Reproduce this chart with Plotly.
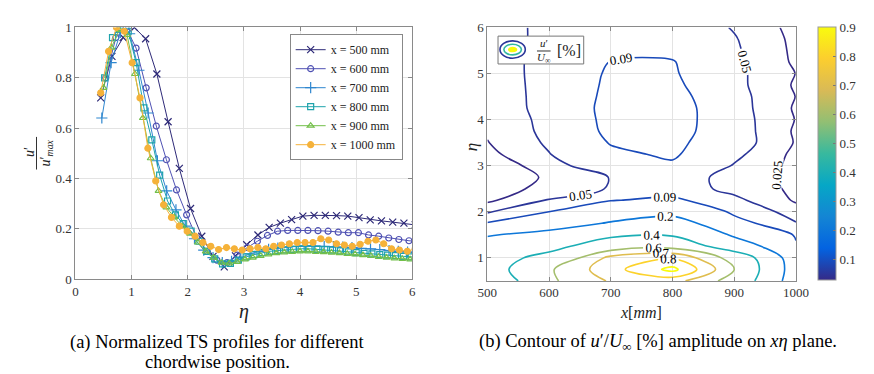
import plotly.graph_objects as go

W, H = 874, 374

# ---------------- left panel data: normalized TS profiles ----------------
eta_500 = [0.45,0.65,0.85,1.05,1.25,1.45,1.65,1.85,2.05,2.25,2.45,2.65,2.85,3.05,3.25,3.45,3.65,3.85,4.05,4.25,4.45,4.65,4.85,5.05,5.25,5.45,5.65,5.85,6.05]
u_500 = [0.72,0.885,0.96,1.0,0.955,0.815,0.625,0.44,0.28,0.17,0.09,0.048,0.092,0.136,0.175,0.205,0.222,0.236,0.25,0.253,0.253,0.252,0.25,0.244,0.235,0.231,0.226,0.222,0.215]

eta_600 = [0.54,0.72,0.90,1.08,1.26,1.44,1.62,1.80,1.98,2.16,2.34,2.52,2.70,2.88,3.06,3.24,3.42,3.60,3.78,3.96,4.14,4.32,4.50,4.68,4.86,5.04,5.22,5.40,5.58,5.76,5.94,6.12]
u_600 = [0.80,0.96,1.0,0.918,0.76,0.608,0.474,0.354,0.255,0.165,0.11,0.075,0.065,0.095,0.125,0.15,0.173,0.19,0.193,0.193,0.193,0.192,0.19,0.186,0.184,0.184,0.175,0.17,0.163,0.157,0.152,0.148]

eta_700 = [0.47,0.635,0.80,0.965,1.13,1.295,1.46,1.625,1.79,1.955,2.12,2.285,2.45,2.615,2.78,2.945,3.11,3.275,3.44,3.605,3.77,3.935,4.10,4.265,4.43,4.595,4.76,4.925,5.09,5.255,5.42,5.585,5.75,5.915,6.08]
u_700 = [0.64,0.86,0.98,0.975,0.83,0.66,0.47,0.35,0.275,0.21,0.16,0.115,0.085,0.065,0.07,0.085,0.1,0.11,0.118,0.123,0.127,0.13,0.131,0.131,0.13,0.129,0.127,0.125,0.122,0.12,0.117,0.113,0.11,0.107,0.105]

eta_800 = [0.52,0.66,0.80,0.94,1.08,1.22,1.36,1.50,1.64,1.78,1.92,2.06,2.20,2.34,2.48,2.62,2.76,2.90,3.04,3.18,3.32,3.46,3.60,3.74,3.88,4.02,4.16,4.30,4.44,4.58,4.72,4.86,5.00,5.14,5.28,5.42,5.56,5.70,5.84,5.98,6.12]
u_800 = [0.80,0.96,1.0,0.985,0.86,0.68,0.553,0.413,0.31,0.255,0.22,0.19,0.15,0.11,0.08,0.06,0.062,0.075,0.088,0.097,0.105,0.11,0.113,0.116,0.118,0.12,0.12,0.118,0.117,0.115,0.112,0.108,0.105,0.102,0.1,0.097,0.095,0.093,0.09,0.088,0.087]

eta_900 = [0.50,0.64,0.78,0.92,1.06,1.20,1.34,1.48,1.62,1.76,1.90,2.04,2.18,2.32,2.46,2.60,2.74,2.88,3.02,3.16,3.30,3.44,3.58,3.72,3.86,4.00,4.14,4.28,4.42,4.56,4.70,4.84,4.98,5.12,5.26,5.40,5.54,5.68,5.82,5.96,6.10]
u_900 = [0.76,0.92,0.99,0.97,0.815,0.64,0.48,0.35,0.285,0.245,0.21,0.18,0.145,0.11,0.085,0.065,0.062,0.068,0.078,0.085,0.092,0.098,0.103,0.106,0.108,0.11,0.11,0.108,0.107,0.105,0.103,0.1,0.098,0.095,0.092,0.088,0.085,0.082,0.08,0.078,0.077]

eta_1000 = [0.45,0.59,0.73,0.87,1.01,1.15,1.29,1.43,1.57,1.71,1.85,1.99,2.13,2.27,2.41,2.55,2.69,2.83,2.97,3.11,3.25,3.39,3.53,3.67,3.81,3.95,4.09,4.23,4.37,4.51,4.65,4.79,4.93,5.07,5.21,5.35,5.49,5.63,5.77,5.91,6.05]
u_1000 = [0.74,0.905,1.0,0.985,0.86,0.72,0.52,0.39,0.295,0.245,0.21,0.19,0.17,0.145,0.13,0.117,0.125,0.12,0.115,0.12,0.125,0.12,0.13,0.135,0.14,0.145,0.145,0.145,0.16,0.155,0.14,0.135,0.13,0.138,0.15,0.155,0.14,0.12,0.115,0.11,0.12]

series_names = ["x = 500 mm", "x = 600 mm", "x = 700 mm", "x = 800 mm", "x = 900 mm", "x = 1000 mm"]
x_ticks_left = [0, 1, 2, 3, 4, 5, 6]
y_ticks_left = [0, 0.2, 0.4, 0.6, 0.8, 1]

# ---------------- right panel data: u'/U_inf [%] on x-eta plane ----------------
x_mm = [500, 600, 700, 800, 900, 1000]
eta_grid = [0.5,0.75,1.0,1.25,1.5,1.75,2.0,2.25,2.5,2.75,3.0,3.25,3.5,3.75,4.0,4.25,4.5,4.75,5.0,5.25,5.5,5.75,6.0]
amp_500 = [0.22,0.30,0.30,0.26,0.19,0.093,0.045,0.020,0.012,0.010,0.012,0.018,0.024,0.028,0.030,0.032,0.033,0.034,0.035,0.035,0.035,0.035,0.035]
amp_600 = [0.58,0.585,0.47,0.33,0.24,0.14,0.09,0.052,0.033,0.028,0.035,0.049,0.054,0.057,0.058,0.060,0.060,0.060,0.060,0.060,0.059,0.058,0.058]
amp_700 = [0.71,0.76,0.73,0.53,0.36,0.21,0.13,0.088,0.052,0.051,0.078,0.083,0.092,0.098,0.100,0.101,0.099,0.097,0.095,0.091,0.080,0.074,0.068]
amp_800 = [0.74,0.93,0.79,0.56,0.38,0.26,0.16,0.10,0.065,0.068,0.085,0.095,0.099,0.105,0.108,0.108,0.104,0.098,0.094,0.092,0.082,0.076,0.070]
amp_900 = [0.55,0.60,0.55,0.28,0.18,0.11,0.08,0.057,0.042,0.038,0.048,0.057,0.065,0.065,0.063,0.062,0.060,0.058,0.057,0.056,0.054,0.052,0.048]
amp_1000 = [0.10,0.11,0.10,0.095,0.085,0.052,0.035,0.022,0.020,0.018,0.018,0.019,0.023,0.0215,0.024,0.022,0.0245,0.022,0.0245,0.021,0.020,0.019,0.017]
levels = [0.025, 0.05, 0.09, 0.2, 0.4, 0.6, 0.7, 0.8, 0.9]
cbar_ticks = [0.1, 0.2, 0.3, 0.4, 0.5, 0.6, 0.7, 0.8, 0.9]
cbar_min, cbar_max = 0.028, 0.9
x_ticks_right = [500, 600, 700, 800, 900, 1000]
y_ticks_right = [1, 2, 3, 4, 5, 6]

# ---------------- styling ----------------
SERIF = "Liberation Serif, DejaVu Serif, Times New Roman, serif"
line_colors = ["#2e2a78", "#4f51b3", "#2f87cf", "#1ea3ac", "#73bf4a", "#f5b23a"]
symbols = ["x-thin-open", "circle-open", "cross-thin-open", "square-open", "triangle-up-open", "circle"]
sizes = [7, 6, 8, 6, 6, 6]
parula = [[0.0, "#352A87"], [0.125, "#0363E1"], [0.25, "#1485D4"], [0.375, "#06A7C6"],
          [0.5, "#38B99E"], [0.625, "#92BF73"], [0.75, "#D9BA56"], [0.875, "#FCCE2E"], [1.0, "#F9FB0E"]]


def px(x):
    return x / W


def py(y):
    return 1 - y / H


def scale_color(v):
    t = (v - cbar_min) / (cbar_max - cbar_min)
    t = min(max(t, 0.0), 1.0)
    for (t0, c0), (t1, c1) in zip(parula[:-1], parula[1:]):
        if t0 <= t <= t1:
            f = (t - t0) / (t1 - t0) if t1 > t0 else 0
            a = [int(c0[i:i + 2], 16) for i in (1, 3, 5)]
            b = [int(c1[i:i + 2], 16) for i in (1, 3, 5)]
            r = [round(a[k] + f * (b[k] - a[k])) for k in range(3)]
            return "rgb(%d,%d,%d)" % tuple(r)
    return parula[-1][1]


fig = go.Figure()

etas = [eta_500, eta_600, eta_700, eta_800, eta_900, eta_1000]
us = [u_500, u_600, u_700, u_800, u_900, u_1000]
for i in range(6):
    fig.add_trace(go.Scatter(
        x=etas[i], y=us[i], name=series_names[i], mode="lines+markers",
        line=dict(color=line_colors[i], width=1),
        marker=dict(symbol=symbols[i], size=sizes[i], color=line_colors[i],
                    line=dict(width=1.2, color=line_colors[i])),
        xaxis="x", yaxis="y", hoverinfo="skip"))

# contour field (rows along eta, columns along x)
cols = [amp_500, amp_600, amp_700, amp_800, amp_900, amp_1000]
Z = [[cols[i][j] for i in range(len(x_mm))] for j in range(len(eta_grid))]

for L in levels:
    c = scale_color(L)
    fig.add_trace(go.Contour(
        x=x_mm, y=eta_grid, z=Z, autocontour=False,
        contours=dict(start=L, end=L, size=1, coloring="lines", showlabels=True,
                      labelfont=dict(family=SERIF, size=13, color="black"),
                      labelformat="~g"),
        colorscale=[[0, c], [1, c]], showscale=False, line=dict(width=1.6),
        xaxis="x2", yaxis="y2", hoverinfo="skip", showlegend=False))

# colorbar carrier
fig.add_trace(go.Scatter(
    x=[None], y=[None], mode="markers", xaxis="x2", yaxis="y2", showlegend=False,
    marker=dict(color=[0.5], colorscale=parula, cmin=cbar_min, cmax=cbar_max, showscale=True,
                colorbar=dict(x=px(822), xanchor="left", y=py(13), yanchor="top",
                              len=(277 - 13) / H, lenmode="fraction", thickness=18,
                              xpad=0, ypad=0, outlinecolor="#999", outlinewidth=1,
                              tickvals=cbar_ticks, ticks="inside", ticklen=3,
                              tickcolor="#777",
                              tickfont=dict(family=SERIF, size=13, color="#333")))))

axis_common = dict(showgrid=True, gridcolor="#e3e3e3", gridwidth=1, showline=True,
                   linecolor="#8a8a8a", linewidth=1, mirror="ticks", ticks="inside",
                   ticklen=4, tickcolor="#888", zeroline=False,
                   tickfont=dict(family=SERIF, size=13, color="#333"))

fig.update_layout(
    width=W, height=H, margin=dict(l=0, r=0, t=0, b=0),
    paper_bgcolor="white", plot_bgcolor="white",
    xaxis=dict(domain=[px(59), px(405)], range=[0, 6], tickvals=x_ticks_left, anchor="y", **axis_common),
    yaxis=dict(domain=[py(275), py(13)], range=[0, 1], tickvals=y_ticks_left,
               ticktext=["0", "0.2", "0.4", "0.6", "0.8", "1"], anchor="x", **axis_common),
    xaxis2=dict(domain=[px(482), px(799)], range=[500, 1000], tickvals=x_ticks_right, anchor="y2", **axis_common),
    yaxis2=dict(domain=[py(277), py(13)], range=[0.5, 6], tickvals=y_ticks_right, anchor="x2", **axis_common),
    legend=dict(x=px(279), y=py(20), xanchor="left", yanchor="top", bgcolor="white",
                bordercolor="#888", borderwidth=1, tracegroupgap=0,
                font=dict(family=SERIF, size=12, color="#222")),
    showlegend=True,
)

ann = []


def add_text(text, x, y, size, angle=0, color="#222", xanchor="center"):
    ann.append(dict(text=text, x=px(x), y=py(y), xref="paper", yref="paper", showarrow=False,
                    textangle=angle, xanchor=xanchor, yanchor="middle",
                    font=dict(family=SERIF, size=size, color=color)))


# left y-axis label as a fraction u'/u'_max
add_text("<i>u</i>′", 12, 143, 14, angle=-90)
add_text("<i>u</i>′<sub><i>max</i></sub>", 29, 144, 14, angle=-90)
# axis titles
add_text("<i>η</i>", 232, 309, 20)
add_text("<i>η</i>", 466, 138, 17, angle=-90)
add_text("<i>x</i>[<i>mm</i>]", 640, 310, 16)
# right panel legend text
add_text("<i>u</i>′", 540, 29, 11)
add_text("<i>U</i><sub>∞</sub>", 540, 45, 11)
add_text("[%]", 566, 37, 16)
# captions
add_text("(a) Normalized TS profiles for different", 205, 341, 18.5, color="black")
add_text("chordwise position.", 205, 362, 18.5, color="black")
add_text("(b) Contour of <i>u</i>′/<i>U</i><sub>∞</sub> [%] amplitude on <i>xη</i> plane.", 657, 341, 18.5, color="black")

shapes = [
    # fraction bar of the left y-axis label
    dict(type="line", xref="paper", yref="paper", x0=px(19), x1=px(19), y0=py(127), y1=py(161),
         line=dict(color="#333", width=1)),
    # right panel legend box and icon
    dict(type="rect", xref="paper", yref="paper", x0=px(493), x1=px(581), y0=py(51), y1=py(22),
         line=dict(color="#777", width=1), fillcolor="white", layer="above"),
    dict(type="circle", xref="paper", yref="paper", x0=px(495), x1=px(521), y0=py(45), y1=py(27),
         line=dict(color=scale_color(0.05), width=1.6), layer="above"),
    dict(type="circle", xref="paper", yref="paper", x0=px(499), x1=px(517), y0=py(41.5), y1=py(30.5),
         line=dict(color=scale_color(0.45), width=1.6), layer="above"),
    dict(type="circle", xref="paper", yref="paper", x0=px(504), x1=px(512), y0=py(38), y1=py(34),
         line=dict(color=scale_color(0.9), width=1.6), fillcolor=scale_color(0.9), layer="above"),
    dict(type="line", xref="paper", yref="paper", x0=px(533), x1=px(547), y0=py(37.5), y1=py(37.5),
         line=dict(color="#333", width=1), layer="above"),
]
fig.update_layout(annotations=ann, shapes=shapes)

fig.write_html("out.html")
